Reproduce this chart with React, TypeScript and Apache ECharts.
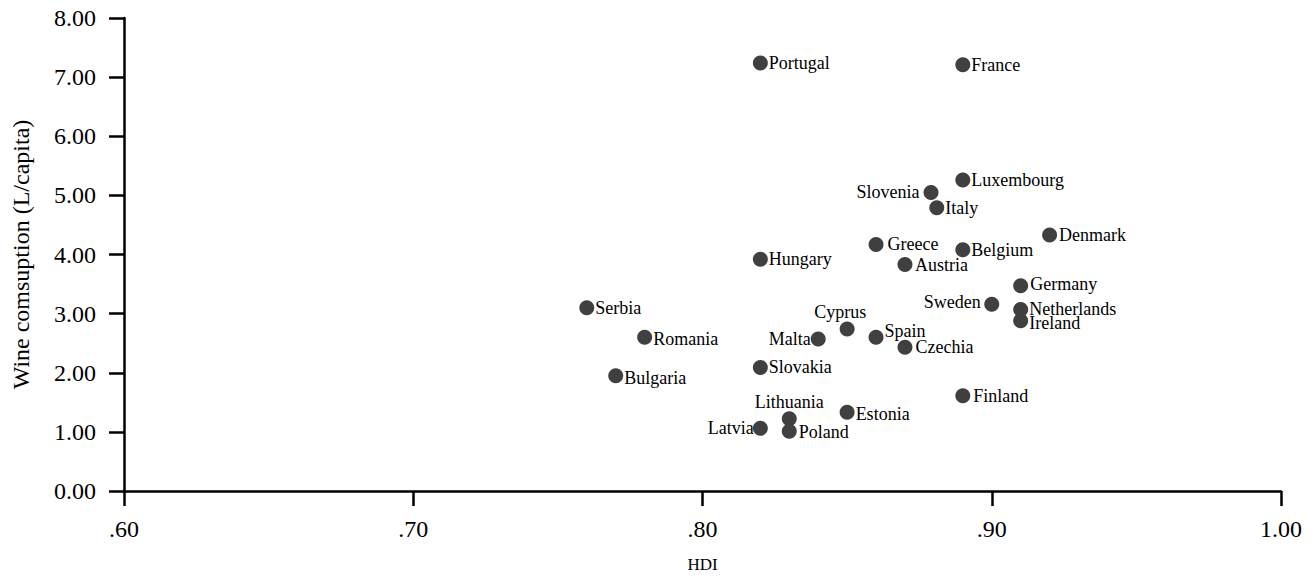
import React, { useEffect, useRef } from "react";
import * as echarts from "echarts";

const countries = [
  "Portugal", "France", "Luxembourg", "Slovenia", "Italy", "Denmark", "Greece", "Belgium",
  "Hungary", "Austria", "Germany", "Sweden", "Netherlands", "Ireland", "Serbia", "Cyprus",
  "Spain", "Malta", "Romania", "Czechia", "Slovakia", "Bulgaria", "Finland", "Estonia",
  "Lithuania", "Latvia", "Poland",
];
const hdi = [
  0.82, 0.89, 0.89, 0.879, 0.881, 0.92, 0.86, 0.89,
  0.82, 0.87, 0.91, 0.90, 0.91, 0.91, 0.76, 0.85,
  0.86, 0.84, 0.78, 0.87, 0.82, 0.77, 0.89, 0.85,
  0.83, 0.82, 0.83,
];
const wine = [
  7.24, 7.21, 5.26, 5.05, 4.79, 4.33, 4.17, 4.08,
  3.92, 3.83, 3.47, 3.16, 3.07, 2.88, 3.10, 2.74,
  2.60, 2.57, 2.60, 2.43, 2.09, 1.95, 1.61, 1.33,
  1.22, 1.06, 1.01,
];
const xTicks = { min: 0.6, max: 1.0, interval: 0.1 };
const yTicks = { min: 0, max: 8, interval: 1 };

// label placement (style only)
const placement: Record<string, { position: string; distance: number; offset?: number[] }> = {
  Slovenia: { position: "left", distance: 4 },
  Sweden: { position: "left", distance: 3.5, offset: [0, -2] },
  Malta: { position: "left", distance: 0 },
  Latvia: { position: "left", distance: -1 },
  Cyprus: { position: "top", distance: 0, offset: [-7, 0] },
  Lithuania: { position: "top", distance: 0 },
  Greece: { position: "right", distance: 4 },
  Austria: { position: "right", distance: 2.5 },
  Czechia: { position: "right", distance: 3 },
  Finland: { position: "right", distance: 3 },
  Denmark: { position: "right", distance: 2 },
  Germany: { position: "right", distance: 2, offset: [0, -2] },
  Ireland: { position: "right", distance: 1, offset: [0, 2.5] },
  Spain: { position: "right", distance: 1, offset: [0, -6] },
  Romania: { position: "right", distance: 1, offset: [0, 2] },
  Bulgaria: { position: "right", distance: 1, offset: [0, 2] },
  Estonia: { position: "right", distance: 1, offset: [0, 2] },
  Poland: { position: "right", distance: 2, offset: [0, 1] },
};

const FONT = "'Liberation Serif', 'Times New Roman', serif";

export default function App() {
  const ref = useRef<HTMLDivElement>(null);
  useEffect(() => {
    if (!ref.current) return;
    const chart = echarts.init(ref.current, undefined, { renderer: "svg" });
    const data = countries.map((name, i) => {
      const p = placement[name] || { position: "right", distance: 1 };
      return {
        name,
        value: [hdi[i], wine[i]],
        label: { position: p.position, distance: p.distance, offset: p.offset || [0, 0] },
      };
    });
    const axisLine = { show: true, onZero: false, lineStyle: { color: "#000", width: 2.5 } };
    const axisTick = { show: true, length: 15, lineStyle: { color: "#000", width: 2.5 } };
    chart.setOption({
      animation: false,
      backgroundColor: "#fff",
      grid: { left: 124, right: 34, top: 18, bottom: 86, containLabel: false },
      xAxis: {
        type: "value",
        min: xTicks.min,
        max: xTicks.max,
        interval: xTicks.interval,
        axisLine,
        axisTick,
        splitLine: { show: false },
        axisLabel: {
          color: "#000",
          fontFamily: FONT,
          fontSize: 24,
          margin: 26,
          formatter: (v: number) => v.toFixed(2).replace(/^0/, ""),
        },
        name: "HDI",
        nameLocation: "middle",
        nameGap: 65,
        nameTextStyle: { color: "#000", fontFamily: FONT, fontSize: 17 },
      },
      yAxis: {
        type: "value",
        min: yTicks.min,
        max: yTicks.max,
        interval: yTicks.interval,
        axisLine,
        axisTick,
        splitLine: { show: false },
        axisLabel: {
          color: "#000",
          fontFamily: FONT,
          fontSize: 24,
          margin: 28,
          formatter: (v: number) => v.toFixed(2),
        },
        name: "Wine comsuption (L/capita)",
        nameLocation: "middle",
        nameGap: 91,
        nameTextStyle: { color: "#000", fontFamily: FONT, fontSize: 24 },
      },
      series: [
        {
          type: "scatter",
          symbol: "circle",
          symbolSize: 15,
          itemStyle: { color: "#404040", opacity: 1 },
          label: {
            show: true,
            formatter: "{b}",
            color: "#000",
            fontFamily: FONT,
            fontSize: 18,
          },
          emphasis: { disabled: true },
          data,
        },
      ],
    });
    return () => chart.dispose();
  }, []);
  return (
    <div
      ref={ref}
      style={{ position: "fixed", left: 0, top: 0, width: 1315, height: 578, background: "#fff" }}
    />
  );
}
